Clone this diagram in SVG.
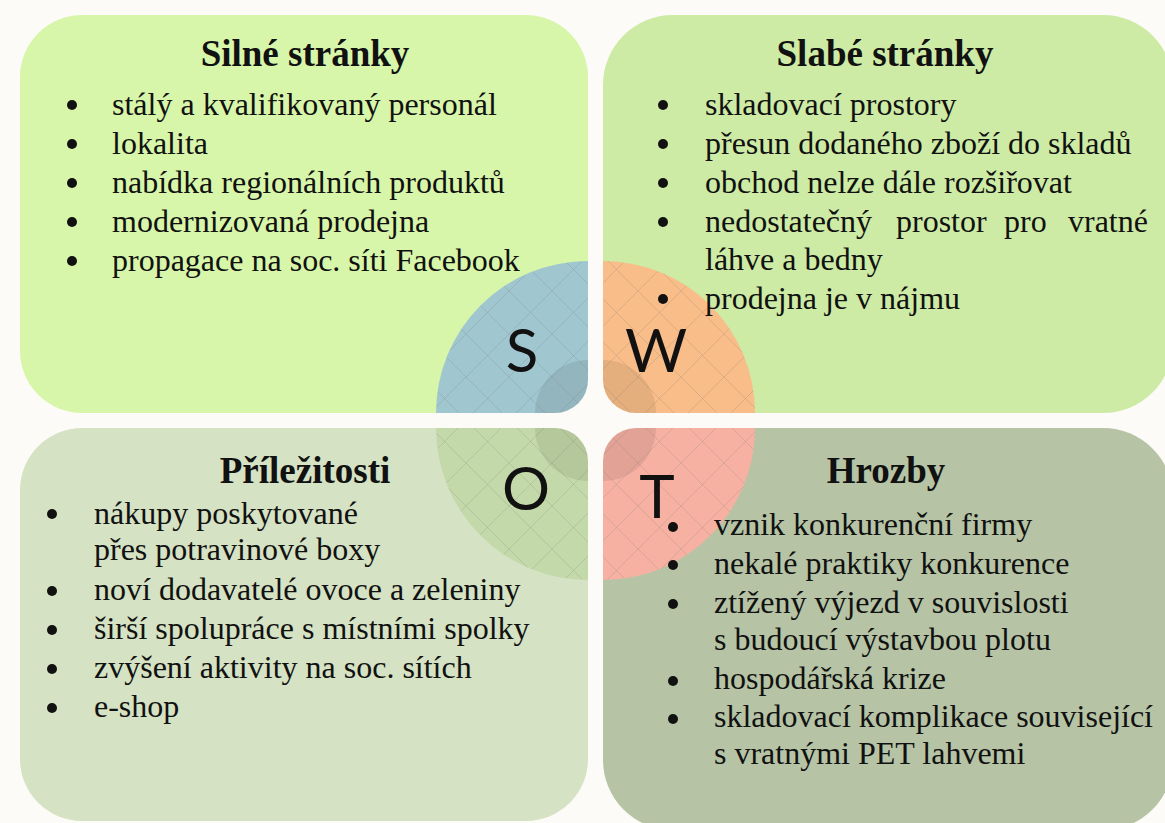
<svg xmlns="http://www.w3.org/2000/svg" width="1165" height="823" viewBox="0 0 1165 823">
<style>
.title{font-family:"Liberation Serif","Times New Roman",serif;font-weight:bold;font-size:37px;fill:#111;text-anchor:middle}
.body{font-family:"Liberation Serif","Times New Roman",serif;font-size:32px;fill:#111}
.letter{font-family:Lato,"Open Sans",sans-serif;font-weight:400;font-size:60px;fill:#111;text-anchor:middle}
.dot{fill:#111}
.shade{fill:#000;fill-opacity:0.08}
.grid{fill:url(#grid)}
</style>
<defs>
<pattern id="grid" patternUnits="userSpaceOnUse" x="595" y="420" width="43" height="43">
<path d="M0,0 L43,43 M43,0 L0,43" stroke="#6f6f6f" stroke-opacity="0.2" stroke-width="1" fill="none"/>
</pattern>
<path id="pS" d="M588,261 A152,152 0 0 0 436,413 L555,413 A33,33 0 0 0 588,380 Z"/>
<path id="pW" d="M603,261 A152,152 0 0 1 755,413 L636,413 A33,33 0 0 1 603,380 Z"/>
<path id="pO" d="M436,428 A152,152 0 0 0 588,580 L588,461 A33,33 0 0 0 555,428 Z"/>
<path id="pT" d="M755,428 A152,152 0 0 1 603,580 L603,461 A33,33 0 0 1 636,428 Z"/>
<clipPath id="cS"><use href="#pS"/></clipPath>
<clipPath id="cW"><use href="#pW"/></clipPath>
<clipPath id="cO"><use href="#pO"/></clipPath>
<clipPath id="cT"><use href="#pT"/></clipPath>
</defs>
<rect width="1165" height="823" fill="#fdfbf7"/>

<g id="panel-strengths">
<rect x="20" y="15" width="568" height="398" rx="62" fill="#d8f6a9"/>
</g>
<g id="panel-weaknesses">
<rect x="603" y="15" width="570" height="398" rx="70" fill="#cdeba5"/>
</g>
<g id="panel-opportunities">
<rect x="20" y="428" width="568" height="393" rx="62" fill="#d5e2c3"/>
</g>
<g id="panel-threats">
<rect x="603" y="428" width="570" height="402" rx="70" fill="#b6c4a5"/>
</g>

<g id="petal-S">
<use href="#pS" fill="#a0c6cf"/>
<g clip-path="url(#cS)"><circle cx="588" cy="413" r="53" class="shade"/><rect x="430" y="255" width="165" height="165" class="grid"/></g>
<text x="522" y="372" class="letter">S</text>
</g>
<g id="petal-W">
<use href="#pW" fill="#f8bd88"/>
<g clip-path="url(#cW)"><circle cx="603" cy="413" r="53" class="shade"/><rect x="598" y="255" width="165" height="165" class="grid"/></g>
<text x="656" y="372" class="letter">W</text>
</g>
<g id="petal-O">
<use href="#pO" fill="#c4d9aa"/>
<g clip-path="url(#cO)"><circle cx="588" cy="428" r="53" class="shade"/><rect x="430" y="422" width="165" height="165" class="grid"/></g>
<text x="526" y="510" class="letter">O</text>
</g>
<g id="petal-T">
<use href="#pT" fill="#f6b1a3"/>
<g clip-path="url(#cT)"><circle cx="603" cy="428" r="53" class="shade"/><rect x="598" y="422" width="165" height="165" class="grid"/></g>
<text x="657" y="518" class="letter">T</text>
</g>

<g id="text-strengths">
<text x="305" y="66" class="title">Silné stránky</text>
<circle cx="72" cy="105" r="5" class="dot"/><text x="112" y="115" class="body">stálý a kvalifikovaný personál</text>
<circle cx="72" cy="144" r="5" class="dot"/><text x="112" y="154" class="body">lokalita</text>
<circle cx="72" cy="183" r="5" class="dot"/><text x="112" y="193" class="body">nabídka regionálních produktů</text>
<circle cx="72" cy="222" r="5" class="dot"/><text x="112" y="232" class="body">modernizovaná prodejna</text>
<circle cx="72" cy="261" r="5" class="dot"/><text x="112" y="271" class="body">propagace na soc. síti Facebook</text>
</g>

<g id="text-weaknesses">
<text x="885" y="66" class="title">Slabé stránky</text>
<circle cx="663" cy="105" r="5" class="dot"/><text x="705" y="115" class="body">skladovací prostory</text>
<circle cx="663" cy="144" r="5" class="dot"/><text x="705" y="154" class="body">přesun dodaného zboží do skladů</text>
<circle cx="663" cy="183" r="5" class="dot"/><text x="705" y="193" class="body">obchod nelze dále rozšiřovat</text>
<circle cx="663" cy="222" r="5" class="dot"/><text x="705" y="232" class="body"><tspan x="705">nedostatečný</tspan><tspan x="896">prostor</tspan><tspan x="1004">pro</tspan><tspan x="1068">vratné</tspan></text>
<text x="705" y="270" class="body">láhve a bedny</text>
<circle cx="663" cy="299" r="5" class="dot"/><text x="705" y="309" class="body">prodejna je v nájmu</text>
</g>

<g id="text-opportunities">
<text x="305" y="483" class="title">Příležitosti</text>
<circle cx="52" cy="514" r="5" class="dot"/><text x="94" y="524" class="body">nákupy poskytované</text>
<text x="94" y="560" class="body">přes potravinové boxy</text>
<circle cx="52" cy="591" r="5" class="dot"/><text x="94" y="600" class="body">noví dodavatelé ovoce a zeleniny</text>
<circle cx="52" cy="630" r="5" class="dot"/><text x="94" y="639" class="body">širší spolupráce s místními spolky</text>
<circle cx="52" cy="669" r="5" class="dot"/><text x="94" y="678" class="body">zvýšení aktivity na soc. sítích</text>
<circle cx="52" cy="708" r="5" class="dot"/><text x="94" y="717" class="body">e-shop</text>
</g>

<g id="text-threats">
<text x="886" y="483" class="title">Hrozby</text>
<circle cx="673" cy="527" r="5" class="dot"/><text x="714" y="535" class="body">vznik konkurenční firmy</text>
<circle cx="673" cy="565" r="5" class="dot"/><text x="714" y="574" class="body">nekalé praktiky konkurence</text>
<circle cx="673" cy="604" r="5" class="dot"/><text x="714" y="613" class="body">ztížený výjezd v souvislosti</text>
<text x="714" y="650" class="body">s budoucí výstavbou plotu</text>
<circle cx="673" cy="681" r="5" class="dot"/><text x="714" y="689" class="body">hospodářská krize</text>
<circle cx="673" cy="719" r="5" class="dot"/><text x="714" y="727" class="body">skladovací komplikace související</text>
<text x="714" y="764" class="body">s vratnými PET lahvemi</text>
</g>
</svg>
